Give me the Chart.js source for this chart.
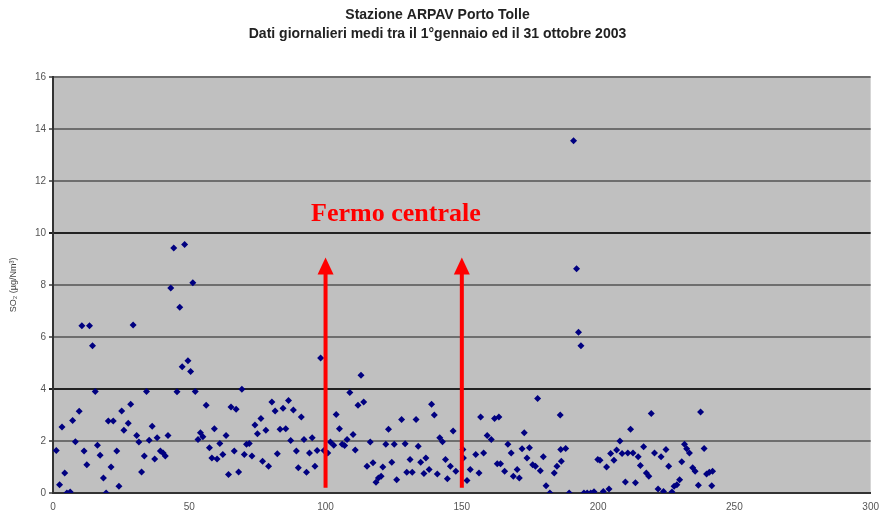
<!DOCTYPE html>
<html>
<head>
<meta charset="utf-8">
<script src="https://cdn.jsdelivr.net/npm/chart.js@4/dist/chart.umd.min.js"></script>
<style>
  html, body { margin: 0; padding: 0; background: #fff; }
  #wrap { width: 883px; height: 521px; }
</style>
</head>
<body>
<div id="wrap"><canvas id="so2"></canvas></div>
<script>
// daily SO2 means, Porto Tolle 2003 (day number, ug/Nm3)
var days = [
  1.2, 2.4, 3.3, 4.3, 5.1, 6.3, 7.2, 8.2, 9.6, 10.6, 11.4, 12.4, 13.4, 14.5, 15.5, 16.3, 17.3, 18.5, 19.5, 20.3,
  21.3, 22.1, 23.4, 24.2, 25.2, 26, 27.6, 28.5, 29.4, 30.7, 31.5, 32.5, 33.5, 34.3, 35.3, 36.4, 37.3, 38.2, 39.4, 40.4,
  41.2, 42.2, 43.2, 44.3, 45.5, 46.5, 47.4, 48.3, 49.5, 50.5, 51.3, 52.2, 53.2, 54.1, 55, 56.2, 57.4, 58.3, 59.2, 60.2,
  61.2, 62.3, 63.5, 64.4, 65.3, 66.5, 67.2, 68.1, 69.3, 70.2, 71, 72, 73, 74.1, 75, 76.3, 76.9, 78.1, 79.1, 80.3,
  81.5, 82.3, 83.3, 84.4, 85.4, 86.4, 87.2, 88.2, 89.3, 90, 91.1, 92.1, 93, 94.1, 95.1, 96.1, 96.9, 98.2, 99.4, 100.8,
  101.8, 103, 103.9, 105.1, 106.1, 107, 107.9, 108.9, 110.1, 110.9, 111.9, 113, 114, 115.2, 116.4, 117.4, 118.5, 119.4, 120.4, 121,
  122.1, 123.1, 124.3, 125.2, 126.1, 127.9, 129.2, 129.8, 131, 131.8, 133.2, 134, 134.9, 136.1, 136.8, 138, 138.9, 139.9, 141, 141.9,
  142.9, 144, 144.7, 145.8, 146.8, 147.8, 150.4, 150.6, 151.9, 153.1, 155.1, 156.3, 156.9, 158, 159.3, 160.8, 162, 163, 163.6, 164.2,
  165.7, 166.9, 168.1, 168.9, 170.3, 171.1, 172.1, 172.9, 173.9, 174.8, 176, 177, 177.8, 178.8, 179.9, 180.9, 182.3, 183.9, 184.9, 186.1,
  186.3, 186.5, 188.1, 189.4, 191, 192.1, 192.8, 193.7, 194.8, 196, 197.3, 198.5, 199.9, 200.7, 201.9, 203.1, 204, 204.6, 205.8, 206.8,
  208, 208.8, 210, 210.9, 211.9, 212.8, 213.7, 214.7, 215.5, 216.7, 217.7, 218.6, 219.5, 220.7, 222, 223.1, 224, 224.9, 225.9, 227.1,
  227.9, 228.9, 229.9, 230.7, 231.7, 232.5, 233.5, 234.7, 235.6, 236.8, 237.6, 238.9, 239.8, 240.8, 241.7, 242
];
var so2 = [
  1.63, 0.32, 2.54, 0.77, 0, 0.04, 2.79, 1.97, 3.14, 6.43, 1.61, 1.09, 6.43, 5.66, 3.9, 1.84, 1.45, 0.58, 0, 2.77,
  1.0, 2.77, 1.61, 0.26, 3.15, 2.41, 2.68, 3.41, 6.46, 2.21, 1.96, 0.81, 1.42, 3.9, 2.03, 2.57, 1.31, 2.12, 1.61, 1.54,
  1.42, 2.21, 7.88, 9.42, 3.89, 7.14, 4.85, 9.55, 5.08, 4.67, 8.08, 3.9, 2.06, 2.32, 2.16, 3.37, 1.74, 1.35, 2.47, 1.31,
  1.9, 1.48, 2.21, 0.71, 3.31, 1.61, 3.22, 0.81, 3.99, 1.48, 1.87, 1.9, 1.42, 2.61, 2.28, 2.86, 1.22, 2.41, 1.03, 3.5,
  3.15, 1.51, 2.45, 3.26, 2.47, 3.56, 2.02, 3.19, 1.61, 0.97, 2.92, 2.06, 0.8, 1.54, 2.12, 1.03, 1.63, 5.19, 1.63, 1.54,
  1.96, 1.84, 3.02, 2.47, 1.87, 1.83, 2.06, 3.86, 2.25, 1.65, 3.37, 4.53, 3.5, 1.03, 1.96, 1.16, 0.41, 0.58, 0.64, 1.0,
  1.87, 2.45, 1.18, 1.87, 0.51, 2.83, 1.89, 0.8, 1.29, 0.8, 2.83, 1.8, 1.18, 0.75, 1.35, 0.9, 3.41, 3.0, 0.73, 2.12,
  1.97, 1.29, 0.55, 1.03, 2.38, 0.84, 1.67, 1.35, 0.48, 0.9, 1.48, 0.77, 2.92, 1.54, 2.21, 2.06, 2.86, 1.12, 2.92, 1.12,
  0.84, 1.87, 1.54, 0.64, 0.9, 0.58, 1.7, 2.32, 1.35, 1.74, 1.09, 1.03, 3.63, 0.86, 1.39, 0.28, 0, 0.77, 1.03, 3.0,
  1.67, 1.22, 1.71, 0, 13.54, 8.62, 6.18, 5.66, 0, 0, 0, 0.05, 1.29, 1.26, 0.06, 1.0, 0.15, 1.52, 1.26, 1.65,
  2.0, 1.52, 0.42, 1.54, 2.45, 1.54, 0.39, 1.39, 1.06, 1.78, 0.77, 0.64, 3.06, 1.54, 0.15, 1.39, 0.06, 1.67, 1.03, 0.04,
  0.26, 0.32, 0.51, 1.2, 1.87, 1.7, 1.54, 0.97, 0.84, 0.3, 3.11, 1.71, 0.73, 0.8, 0.28, 0.84
];

// shutdown markers
var arrowDays = [100, 150];
var arrowFrom = 0.2;
var arrowTo = 9.05;
var noteText = 'Fermo centrale';
var noteDay = 125.8;
var noteValue = 10.7;

var points = days.map(function(d, i) { return { x: d, y: so2[i] }; });

var plotBg = {
  id: 'plotBg',
  beforeDraw: function(chart) {
    var a = chart.chartArea, ctx = chart.ctx;
    ctx.save();
    ctx.fillStyle = '#c0c0c0';
    ctx.fillRect(a.left, a.top, a.right - a.left, a.bottom - a.top);
    ctx.restore();
  }
};

var arrows = {
  id: 'arrows',
  afterDatasetsDraw: function(chart) {
    var xs = chart.scales.x, ys = chart.scales.y, ctx = chart.ctx;
    ctx.save();
    ctx.strokeStyle = '#ff0000';
    ctx.fillStyle = '#ff0000';
    arrowDays.forEach(function(d) {
      var px = xs.getPixelForValue(d);
      var yb = ys.getPixelForValue(arrowFrom);
      var yt = ys.getPixelForValue(arrowTo);
      ctx.lineWidth = 4;
      ctx.beginPath();
      ctx.moveTo(px, yb);
      ctx.lineTo(px, yt + 14);
      ctx.stroke();
      ctx.beginPath();
      ctx.moveTo(px, yt);
      ctx.lineTo(px - 8, yt + 17);
      ctx.lineTo(px + 8, yt + 17);
      ctx.closePath();
      ctx.fill();
    });
    ctx.font = 'bold 26px "Liberation Serif", "Times New Roman", serif';
    ctx.textAlign = 'center';
    ctx.textBaseline = 'middle';
    ctx.fillText(noteText, xs.getPixelForValue(noteDay), ys.getPixelForValue(noteValue));
    ctx.restore();
  }
};

var ctx = document.getElementById('so2').getContext('2d');

var so2Chart = new Chart(ctx, {
  type: 'scatter',
  data: {
    datasets: [{
      label: 'SO2',
      data: points,
      backgroundColor: '#000080',
      borderColor: '#000080',
      pointStyle: 'rectRot',
      pointRadius: 3.5,
      borderWidth: 0
    }]
  },
  options: {
    responsive: true,
    maintainAspectRatio: false,
    animation: false,
    layout: { padding: { left: 0, right: 8, top: 0, bottom: 0 } },
    plugins: {
      legend: { display: false },
      tooltip: { enabled: false },
      title: {
        display: true,
        text: ['Stazione ARPAV Porto Tolle', 'Dati giornalieri medi tra il 1°gennaio ed il 31 ottobre 2003'],
        color: '#222',
        font: { family: 'Liberation Sans, Arial, sans-serif', size: 14, weight: 'bold', lineHeight: 1.35 },
        padding: { top: 6, bottom: 33 }
      }
    },
    scales: {
      x: {
        type: 'linear',
        min: 0,
        max: 300,
        ticks: { stepSize: 50, color: '#555', font: { family: 'Liberation Sans, Arial, sans-serif', size: 10 }, padding: 4 },
        grid: { display: false, drawOnChartArea: false, tickLength: 4 },
        border: { color: '#333', width: 2 },
        afterFit: function(s) { s.height = 28; }
      },
      y: {
        min: 0,
        max: 16,
        ticks: { stepSize: 2, color: '#555', font: { family: 'Liberation Sans, Arial, sans-serif', size: 10 }, padding: 3 },
        grid: {
          color: function(c) { return (c.tick && (c.tick.value === 4 || c.tick.value === 10)) ? '#222' : '#6e6e6e'; },
          lineWidth: 2,
          tickLength: 4
        },
        border: { color: '#333', width: 2 },
        title: {
          display: true,
          text: 'SO₂ (µg/Nm³)',
          color: '#444',
          font: { family: 'Liberation Sans, Arial, sans-serif', size: 9 },
          padding: { top: 8, bottom: 0 }
        },
        afterFit: function(s) { s.width = 53; }
      }
    }
  },
  plugins: [plotBg, arrows]
});
</script>
</body>
</html>
